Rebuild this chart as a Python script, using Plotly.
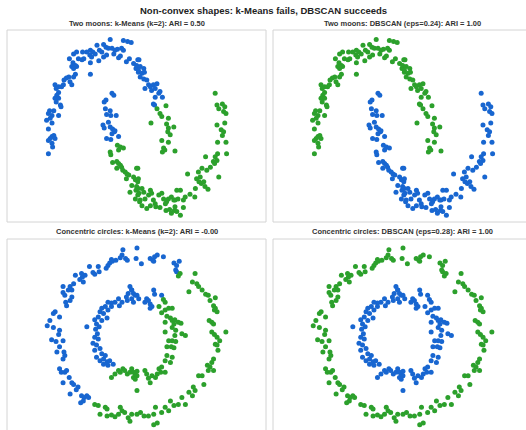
import plotly.graph_objects as go

# ---------------- data ----------------
# Two moons: groups split by (moon, k-means label)
moon_outer_km_blue = [
    (0.00, 1.10), (0.22, 1.09), (0.29, 1.08), (0.35, 1.07), (-0.11, 1.05), (-0.07, 1.02),
    (-0.03, 1.01), (0.03, 1.01), (0.08, 0.99), (0.12, 1.00), (0.19, 1.01), (0.22, 0.99),
    (-0.22, 1.04), (-0.18, 0.99), (-0.14, 0.97), (-0.33, 0.99), (-0.29, 0.97), (-0.25, 0.95),
    (-0.34, 0.94), (-0.31, 0.92), (-0.39, 0.97), (-0.46, 0.97), (-0.56, 0.97), (-0.61, 0.95),
    (-0.53, 0.90), (-0.47, 0.89), (-0.44, 0.90), (-0.68, 0.90), (-0.62, 0.86), (-0.58, 0.83),
    (-0.64, 0.82), (-0.56, 0.82), (-0.61, 0.80), (-0.33, 0.86), (-0.19, 0.88), (-0.11, 0.92),
    (-0.06, 0.94), (0.06, 0.95), (0.14, 0.91), (0.17, 0.93), (0.27, 0.87), (0.32, 0.90),
    (0.39, 0.85), (0.43, 0.80), (0.47, 0.76), (0.46, 0.89), (-0.33, 0.74), (-0.58, 0.74),
    (-0.61, 0.71), (-0.69, 0.71), (-0.73, 0.70), (-0.77, 0.68), (-0.67, 0.66), (-0.64, 0.63),
    (-0.78, 0.63), (-0.81, 0.61), (-0.86, 0.61), (-0.92, 0.63), (-0.90, 0.59), (-0.86, 0.55),
    (-0.89, 0.52), (-0.92, 0.49), (-0.86, 0.49), (-0.90, 0.45), (-0.83, 0.42), (-0.82, 0.40),
    (-0.94, 0.36), (-1.01, 0.36), (-1.03, 0.33), (-0.97, 0.31), (-0.86, 0.31), (-1.00, 0.28),
    (-1.06, 0.26), (-0.97, 0.23), (-1.03, 0.17), (-0.94, 0.10), (-0.97, 0.09), (-1.00, 0.07),
    (-1.03, 0.05), (-0.92, 0.07), (-0.97, 0.02), (-0.96, -0.02), (-1.03, -0.09),
    (0.48, 0.89), (0.44, 0.83), (0.50, 0.82), (0.56, 0.80), (0.47, 0.78), (0.53, 0.75),
    (0.57, 0.76), (0.50, 0.71), (0.56, 0.69), (0.61, 0.68), (0.64, 0.63), (0.67, 0.61),
    (0.72, 0.63), (0.69, 0.57), (0.75, 0.59), (0.78, 0.64), (0.81, 0.54), (0.83, 0.56),
    (0.87, 0.50), (0.75, 0.50), (0.72, 0.43), (0.74, 0.42), (0.58, 0.59),
]
moon_outer_km_green = [
    (0.78, 0.38), (0.93, 0.41), (0.83, 0.33), (0.86, 0.30), (0.97, 0.28), (0.68, 0.23),
    (0.94, 0.22), (0.97, 0.18), (1.06, 0.19), (0.96, 0.14), (1.00, 0.11), (0.86, 0.05),
    (0.97, 0.03), (0.89, -0.03), (0.87, -0.07), (0.91, -0.05), (1.08, -0.06),
]
moon_inner_km_blue = [
    (0.03, 0.54), (0.06, 0.52), (-0.07, 0.47), (-0.10, 0.45), (-0.08, 0.38), (0.00, 0.36),
    (-0.06, 0.32), (0.01, 0.31), (0.10, 0.31), (-0.03, 0.24), (-0.12, 0.21), (-0.10, 0.18),
    (0.00, 0.19), (0.04, 0.17), (0.07, 0.14), (0.03, 0.12), (-0.06, 0.07), (0.01, 0.06),
    (0.14, 0.09), (0.08, 0.15),
]
moon_inner_km_green = [
    (0.12, 0.00), (0.17, -0.02), (0.22, -0.03), (0.00, -0.07), (0.01, -0.10), (0.14, -0.05),
    (0.04, -0.18), (0.11, -0.17), (0.14, -0.19), (0.17, -0.21), (0.19, -0.23), (0.11, -0.24),
    (0.21, -0.26), (0.25, -0.28), (0.28, -0.30), (0.31, -0.31), (0.44, -0.24), (0.39, -0.33),
    (0.27, -0.35), (0.42, -0.36), (0.46, -0.38), (0.36, -0.42), (0.33, -0.49), (0.43, -0.47),
    (0.47, -0.45), (0.46, -0.52), (0.42, -0.56), (0.49, -0.59),
    (1.75, 0.54), (1.78, 0.42), (1.87, 0.43), (1.91, 0.40), (1.81, 0.38), (1.89, 0.35),
    (1.93, 0.33), (1.78, 0.21), (1.91, 0.23), (1.85, 0.16), (1.89, 0.14), (1.87, 0.10),
    (1.79, 0.03), (1.93, 0.03), (1.94, -0.09), (1.79, -0.09), (1.75, -0.12), (1.78, -0.16),
    (1.72, -0.17), (1.74, -0.19), (1.59, -0.12), (1.67, -0.23), (1.61, -0.26), (1.53, -0.24),
    (1.47, -0.28), (1.50, -0.33), (1.44, -0.35), (1.48, -0.38), (1.52, -0.40), (1.56, -0.38),
    (1.58, -0.43), (1.63, -0.46), (1.81, -0.33), (1.29, -0.30), (1.42, -0.45), (1.33, -0.51),
    (1.41, -0.54), (1.25, -0.54), (1.22, -0.57), (1.17, -0.47), (1.11, -0.47), (1.13, -0.56),
    (1.08, -0.57), (1.02, -0.54), (1.06, -0.57), (0.97, -0.56), (0.94, -0.59), (0.92, -0.61),
    (0.89, -0.56), (0.86, -0.50), (0.81, -0.52), (0.76, -0.64), (0.83, -0.65), (0.93, -0.68),
    (0.99, -0.67), (1.07, -0.68), (1.02, -0.71), (1.11, -0.69), (1.17, -0.73), (1.22, -0.65),
    (1.08, -0.64), (0.72, -0.57), (0.75, -0.61), (0.67, -0.63), (0.64, -0.52), (0.61, -0.66),
    (0.53, -0.63), (0.50, -0.57), (0.48, -0.50), (0.53, -0.45), (0.44, -0.43), (0.46, -0.24),
    (0.47, -0.35), (0.56, -0.49), (0.58, -0.56), (0.67, -0.47), (0.69, -0.50),
]

# Concentric circles: groups split by (circle, k-means label)
circ_outer_km_blue = [
    (-0.16, 0.98), (-0.17, 0.92), (-0.19, 0.89), (-0.24, 0.86), (-0.28, 0.85), (-0.31, 0.83),
    (-0.33, 0.80), (-0.29, 0.87), (-0.13, 0.88), (-0.11, 0.86), (-0.35, 0.77), (-0.44, 0.79),
    (-0.43, 0.73), (-0.50, 0.72), (-0.48, 0.70), (-0.54, 0.79), (-0.59, 0.69), (-0.62, 0.67),
    (-0.63, 0.71), (-0.70, 0.69), (-0.65, 0.64), (-0.61, 0.61), (-0.72, 0.59), (-0.76, 0.56),
    (-0.78, 0.52), (-0.74, 0.52), (-0.84, 0.56), (-0.84, 0.49), (-0.82, 0.46), (-0.74, 0.44),
    (-0.76, 0.40), (-0.81, 0.38), (-0.80, 0.34), (-0.93, 0.27), (-0.95, 0.25), (-0.88, 0.21),
    (-0.99, 0.17), (-1.02, 0.11), (-0.95, 0.09), (-0.88, 0.06), (-0.89, 0.01), (-0.97, -0.05),
    (-0.92, -0.07), (-0.84, -0.06), (-0.88, -0.13), (-0.91, -0.19), (-0.83, -0.19), (-0.82, -0.23),
    (-0.84, -0.27), (-0.88, -0.38), (-0.86, -0.42), (-0.82, -0.42), (-0.84, -0.54), (-0.77, -0.48),
    (-0.80, -0.40), (-0.74, -0.54), (-0.72, -0.56), (-0.76, -0.67), (-0.67, -0.59), (-0.69, -0.62),
    (-0.63, -0.69), (-0.60, -0.71), (-0.57, -0.69), (-0.55, -0.71), (-0.61, -0.75), (-0.64, -0.77),
    (0.00, 1.00), (-0.01, 0.88), (0.05, 0.82), (0.15, 0.88), (0.18, 0.86), (0.20, 0.90),
    (0.23, 0.92), (0.19, 0.85), (0.30, 0.90), (0.42, 0.83), (0.45, 0.80), (0.48, 0.85),
    (0.44, 0.75), (0.45, 0.73),
]
circ_outer_km_green = [
    (-0.48, -0.79), (-0.44, -0.80), (-0.36, -0.82), (-0.34, -0.84), (-0.42, -0.90), (-0.34, -0.92),
    (-0.29, -0.91), (-0.25, -0.93), (-0.21, -0.90), (-0.17, -0.86), (-0.19, -0.82), (-0.14, -0.88),
    (-0.10, -0.94), (-0.08, -0.98), (-0.06, -0.90),
    (0.49, 0.71), (0.47, 0.68), (0.66, 0.71), (0.63, 0.61), (0.68, 0.59), (0.70, 0.56),
    (0.59, 0.50), (0.74, 0.52), (0.78, 0.47), (0.81, 0.46), (0.83, 0.40), (0.89, 0.43),
    (0.87, 0.34), (0.89, 0.31), (0.88, 0.29), (0.91, 0.27), (0.82, 0.17), (0.85, 0.15),
    (0.87, 0.13), (0.85, 0.04), (0.88, 0.01), (0.91, -0.02), (0.94, -0.06), (1.01, 0.04),
    (0.89, -0.10), (0.91, -0.11), (0.92, -0.17), (0.87, -0.27), (0.85, -0.31), (0.80, -0.34),
    (0.83, -0.36), (0.81, -0.40), (0.87, -0.40), (0.70, -0.46), (0.74, -0.46), (0.76, -0.56),
    (0.64, -0.59), (0.59, -0.65), (0.63, -0.69), (0.66, -0.63), (0.51, -0.71), (0.55, -0.79),
    (0.47, -0.79), (0.42, -0.80), (0.38, -0.75), (0.32, -0.82), (0.36, -0.86), (0.28, -0.88),
    (0.21, -0.82), (0.19, -0.90), (0.13, -0.92), (0.08, -0.92), (0.04, -0.88), (0.00, -0.90),
    (0.23, -1.00), (0.19, -1.02),
]
circ_inner_km_blue = [
    (-0.08, 0.56), (-0.06, 0.52), (-0.10, 0.48), (-0.12, 0.44), (-0.11, 0.40), (-0.06, 0.42),
    (-0.04, 0.38), (-0.02, 0.46), (-0.17, 0.38), (-0.21, 0.42), (-0.20, 0.34), (-0.25, 0.38),
    (-0.29, 0.37), (-0.33, 0.38), (-0.29, 0.33), (-0.33, 0.29), (-0.36, 0.33), (-0.40, 0.31),
    (-0.42, 0.27), (-0.38, 0.25), (-0.34, 0.20), (-0.44, 0.21), (-0.48, 0.18), (-0.46, 0.13),
    (-0.57, 0.10), (-0.43, 0.10), (-0.40, 0.17), (-0.47, 0.07), (-0.45, 0.02), (-0.48, -0.02),
    (-0.44, -0.04), (-0.50, -0.09), (-0.46, -0.11), (-0.42, -0.15), (-0.40, -0.21), (-0.48, -0.17),
    (-0.46, -0.25), (-0.42, -0.29), (-0.38, -0.27), (-0.36, -0.23), (-0.34, -0.30), (-0.31, -0.29),
    (-0.27, -0.33), (-0.33, -0.34), (-0.38, -0.33),
    (-0.06, 0.52), (-0.04, 0.48), (0.00, 0.46), (0.02, 0.42), (0.11, 0.42), (0.13, 0.40),
    (0.15, 0.36), (0.17, 0.33), (0.19, 0.52), (0.20, 0.47), (0.28, 0.46), (0.09, 0.38),
    (0.15, 0.31),
]
circ_inner_km_green = [
    (-0.29, -0.48), (-0.25, -0.44), (-0.21, -0.40), (-0.19, -0.42), (-0.16, -0.38), (-0.14, -0.40),
    (-0.11, -0.44), (-0.08, -0.42), (-0.04, -0.48), (-0.02, -0.44), (-0.06, -0.38),
    (0.30, 0.41), (0.32, 0.38), (0.25, 0.33), (0.28, 0.26), (0.32, 0.29), (0.36, 0.31),
    (0.40, 0.31), (0.34, 0.22), (0.38, 0.20), (0.40, 0.17), (0.43, 0.18), (0.47, 0.15),
    (0.50, 0.14), (0.42, 0.13), (0.32, 0.15), (0.40, 0.09), (0.44, 0.06), (0.32, 0.04),
    (0.43, 0.00), (0.36, -0.06), (0.40, -0.06), (0.44, -0.07), (0.34, -0.13), (0.39, -0.13),
    (0.42, -0.14), (0.51, 0.02), (0.55, 0.00), (0.34, -0.23), (0.40, -0.25), (0.32, -0.29),
    (0.38, -0.31), (0.28, -0.36), (0.25, -0.38), (0.27, -0.42), (0.32, -0.42), (0.23, -0.44),
    (0.17, -0.46), (0.21, -0.48), (0.13, -0.49), (0.15, -0.54), (0.11, -0.44), (0.09, -0.40),
    (0.00, -0.41), (-0.04, -0.42), (0.00, -0.46), (-0.02, -0.50), (0.00, -0.63),
]

main_title = "Non-convex shapes: k-Means fails, DBSCAN succeeds"
panel_titles = [
    "Two moons: k-Means (k=2): ARI = 0.50",
    "Two moons: DBSCAN (eps=0.24): ARI = 1.00",
    "Concentric circles: k-Means (k=2): ARI = -0.00",
    "Concentric circles: DBSCAN (eps=0.28): ARI = 1.00",
]

# ---------------- styling ----------------
BLUE = "#1866d0"
GREEN = "#2ca02c"
W, H = 526, 430

# panel boxes in pixels (left, top, right, bottom); right/bottom panels run past the page edge
boxes = [(7, 30, 266, 222), (273, 30, 532, 222), (7, 239, 266, 431), (273, 239, 532, 431)]
# data value at each box's left/right and top/bottom edge
xranges = [(-1.72, 2.597), (-1.72, 2.597), (-1.477, 1.466), (-1.477, 1.466)]
yranges = [(-0.80, 1.20), (-0.80, 1.20), (-1.092, 1.103), (-1.092, 1.103)]


def xs(pts):
    return [p[0] for p in pts]


def ys(pts):
    return [p[1] for p in pts]


panels = [
    [(moon_outer_km_blue + moon_inner_km_blue, BLUE), (moon_outer_km_green + moon_inner_km_green, GREEN)],
    [(moon_outer_km_blue + moon_outer_km_green, GREEN), (moon_inner_km_blue + moon_inner_km_green, BLUE)],
    [(circ_outer_km_blue + circ_inner_km_blue, BLUE), (circ_outer_km_green + circ_inner_km_green, GREEN)],
    [(circ_outer_km_blue + circ_outer_km_green, GREEN), (circ_inner_km_blue + circ_inner_km_green, BLUE)],
]

fig = go.Figure()
layout_axes = {}
shapes = []
annotations = []
FONT = "Liberation Sans, Arial, sans-serif"
for i, (box, xr, yr, groups) in enumerate(zip(boxes, xranges, yranges, panels)):
    n = "" if i == 0 else str(i + 1)
    l, t, r, b = box
    vis_r = min(r, W)
    vis_b = min(b, H)
    xr_vis = xr[0] + (xr[1] - xr[0]) * (vis_r - l) / (r - l)
    yb_vis = yr[0] + (yr[1] - yr[0]) * (b - vis_b) / (b - t)
    layout_axes["xaxis" + n] = dict(domain=[l / W, vis_r / W], range=[xr[0], xr_vis], visible=False,
                                    anchor="y" + n, fixedrange=True)
    layout_axes["yaxis" + n] = dict(domain=[(H - vis_b) / H, (H - t) / H], range=[yb_vis, yr[1]],
                                    visible=False, anchor="x" + n, fixedrange=True)
    for pts, col in groups:
        fig.add_trace(go.Scatter(x=xs(pts), y=ys(pts), mode="markers", xaxis="x" + n, yaxis="y" + n,
                                 marker=dict(color=col, size=5, line=dict(width=0)),
                                 showlegend=False, hoverinfo="skip"))
    shapes.append(dict(type="rect", xref="paper", yref="paper", x0=l / W, x1=r / W,
                       y0=(H - b) / H, y1=(H - t) / H, line=dict(color="#d4d4d4", width=1),
                       fillcolor="rgba(0,0,0,0)", layer="below"))
    annotations.append(dict(text="<b>" + panel_titles[i] + "</b>", x=(l + r) / 2 / W, y=(H - (t - 7)) / H,
                            xref="paper", yref="paper", showarrow=False, xanchor="center",
                            yanchor="middle", font=dict(size=7.5, color="#333333", family=FONT)))

annotations.append(dict(text="<b>" + main_title + "</b>", x=0.5, y=(H - 10.5) / H, xref="paper",
                        yref="paper", showarrow=False, xanchor="center", yanchor="middle",
                        font=dict(size=9.5, color="#222222", family=FONT)))

fig.update_layout(width=W, height=H, margin=dict(l=0, r=0, t=0, b=0), plot_bgcolor="white",
                  paper_bgcolor="white", shapes=shapes, annotations=annotations, **layout_axes)
fig.write_html("out.html", config={"displayModeBar": False},
               post_script="document.body.style.margin='0';")
